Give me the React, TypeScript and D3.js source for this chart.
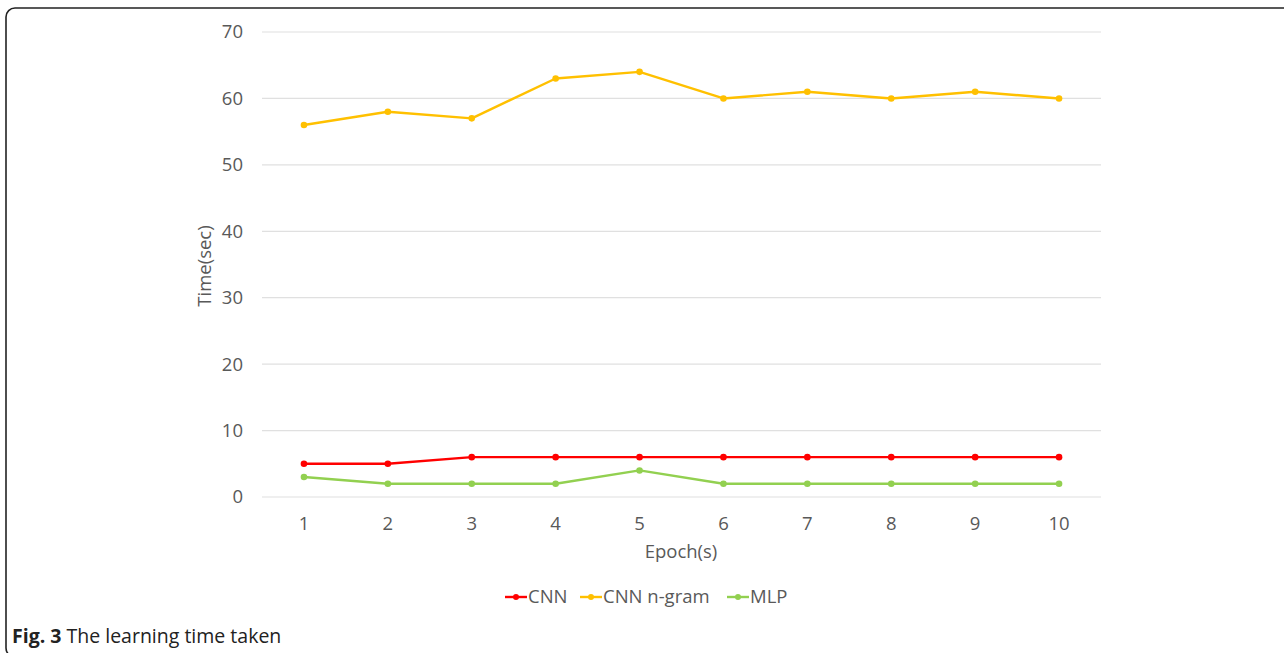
import React from 'react';
import * as d3 from 'd3';

const epochs = ['1', '2', '3', '4', '5', '6', '7', '8', '9', '10'];
const cnn = [5, 5, 6, 6, 6, 6, 6, 6, 6, 6];
const cnnNgram = [56, 58, 57, 63, 64, 60, 61, 60, 61, 60];
const mlp = [3, 2, 2, 2, 4, 2, 2, 2, 2, 2];
const yTicks = [0, 10, 20, 30, 40, 50, 60, 70];

const seriesNames = ['CNN', 'CNN n-gram', 'MLP'];
const seriesColors = ['#ff0000', '#ffc000', '#92d050'];
const seriesValues = [cnn, cnnNgram, mlp];

const W = 1284;
const H = 653;
const margin = { left: 262, right: 183, top: 32, bottom: 156 };
const font = '"Open Sans", "Noto Sans", sans-serif';

export default function App() {
  const x = d3
    .scaleBand()
    .domain(epochs)
    .range([margin.left, W - margin.right]);
  const y = d3
    .scaleLinear()
    .domain([0, 70])
    .range([H - margin.bottom, margin.top]);
  const cx = (d: string) => (x(d) as number) + x.bandwidth() / 2;

  const line = d3
    .line<number>()
    .x((_, i) => cx(epochs[i]))
    .y(v => y(v));

  // legend layout: line start, text start
  const legend = [
    { x0: 505, tx: 528 },
    { x0: 580, tx: 603 },
    { x0: 727, tx: 750 },
  ];

  return (
    <svg
      width={W}
      height={H}
      viewBox={`0 0 ${W} ${H}`}
      style={{ position: 'absolute', left: 0, top: 0, background: '#fff' }}
    >
      <rect x={6} y={8} width={1400} height={649} rx={9} fill="none" stroke="#222" strokeWidth={1.6} />

      <g className="grid">
        {yTicks.map(t => (
          <line key={t} x1={margin.left} x2={W - margin.right} y1={y(t)} y2={y(t)} stroke="#e0e0e0" strokeWidth={1.2} />
        ))}
      </g>

      <g fontFamily={font} fontSize={18.5} fill="#595959">
        {yTicks.map(t => (
          <text key={t} x={243} y={y(t)} dy="0.35em" textAnchor="end">
            {t}
          </text>
        ))}
        {epochs.map(e => (
          <text key={e} x={cx(e)} y={524} dy="0.35em" textAnchor="middle">
            {e}
          </text>
        ))}
        <text x={681} y={552} dy="0.35em" textAnchor="middle">
          Epoch(s)
        </text>
        <text transform={`translate(205, 266) rotate(-90)`} dy="0.35em" textAnchor="middle">
          Time(sec)
        </text>
      </g>

      {seriesValues.map((vals, s) => (
        <g key={seriesNames[s]}>
          <path d={line(vals) as string} fill="none" stroke={seriesColors[s]} strokeWidth={2.4} strokeLinejoin="round" />
          {vals.map((v, i) => (
            <circle key={i} cx={cx(epochs[i])} cy={y(v)} r={3.3} fill={seriesColors[s]} />
          ))}
        </g>
      ))}

      <g fontFamily={font} fontSize={18.5} fill="#595959">
        {seriesNames.map((n, s) => (
          <g key={n}>
            <line x1={legend[s].x0} x2={legend[s].x0 + 22} y1={597} y2={597} stroke={seriesColors[s]} strokeWidth={2.4} />
            <circle cx={legend[s].x0 + 11} cy={597} r={3} fill={seriesColors[s]} />
            <text x={legend[s].tx} y={597} dy="0.35em">
              {n}
            </text>
          </g>
        ))}
      </g>

      <text x={12} y={636} dy="0.35em" fontFamily={font} fontSize={19.5} fill="#222">
        <tspan fontWeight="bold">Fig. 3</tspan> The learning time taken
      </text>
    </svg>
  );
}
